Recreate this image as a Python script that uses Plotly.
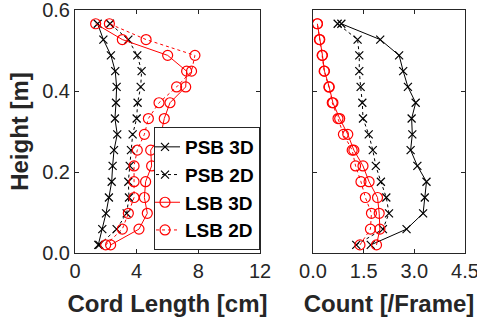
import plotly.graph_objects as go

heights = [0.020, 0.059, 0.098, 0.137, 0.176, 0.215, 0.254, 0.293, 0.332, 0.371, 0.410, 0.449, 0.488, 0.527, 0.566]

psb3d_cord = [1.51, 1.77, 2.01, 2.20, 2.38, 2.44, 2.53, 2.74, 2.59, 2.66, 2.70, 2.61, 2.33, 1.84, 1.47]
psb2d_cord = [1.58, 2.70, 3.35, 3.50, 3.46, 3.55, 3.63, 3.74, 4.00, 4.06, 4.26, 4.32, 4.04, 3.46, 2.27]
lsb3d_cord = [2.31, 4.15, 4.69, 4.50, 4.58, 4.97, 4.91, 5.58, 5.79, 6.16, 7.18, 7.24, 6.01, 3.07, 1.34]
lsb2d_cord = [1.99, 3.07, 3.46, 3.83, 3.83, 3.83, 4.04, 4.50, 4.76, 5.45, 6.59, 7.56, 7.78, 4.61, 2.23]

psb3d_count = [1.71, 2.77, 3.26, 3.31, 3.36, 3.09, 2.89, 2.94, 2.92, 3.04, 2.81, 2.67, 2.55, 1.99, 0.84]
psb2d_count = [1.28, 2.07, 2.25, 2.17, 2.01, 1.86, 1.77, 1.65, 1.48, 1.46, 1.41, 1.37, 1.37, 1.32, 0.73]
lsb3d_count = [1.88, 1.98, 1.96, 1.91, 1.66, 1.48, 1.21, 1.03, 0.79, 0.59, 0.48, 0.34, 0.28, 0.20, 0.13]
lsb2d_count = [1.39, 1.70, 1.73, 1.55, 1.42, 1.26, 1.16, 0.90, 0.74, 0.57, 0.47, 0.33, 0.27, 0.19, 0.13]

series_names = ["PSB 3D", "PSB 2D", "LSB 3D", "LSB 2D"]
cord_ticks = [0, 4, 8, 12]
count_ticks = [0.0, 1.5, 3.0, 4.5]
count_labels = ["0.0", "1.5", "3.0", "4.5"]
height_ticks = [0.0, 0.2, 0.4, 0.6]
height_labels = ["0.0", "0.2", "0.4", "0.6"]

FONT = "Liberation Sans, Arial, sans-serif"
AX = "#262626"

styles = [
    dict(color="black", dash="solid", symbol="x-thin", size=8),
    dict(color="black", dash="dot", symbol="x-thin", size=8),
    dict(color="red", dash="solid", symbol="circle-open", size=10),
    dict(color="red", dash="dot", symbol="circle-open", size=10),
]

fig = go.Figure()
cords = [psb3d_cord, psb2d_cord, lsb3d_cord, lsb2d_cord]
counts = [psb3d_count, psb2d_count, lsb3d_count, lsb2d_count]

for name, xs, st in zip(series_names, cords, styles):
    fig.add_trace(go.Scatter(
        x=xs, y=heights, mode="lines+markers", name=name,
        line=dict(color=st["color"], dash=st["dash"], width=1),
        marker=dict(symbol=st["symbol"], size=st["size"], color=st["color"],
                    line=dict(color=st["color"], width=1.2)),
        xaxis="x", yaxis="y", showlegend=True))

for name, xs, st in zip(series_names, counts, styles):
    fig.add_trace(go.Scatter(
        x=xs, y=heights, mode="lines+markers", name=name,
        line=dict(color=st["color"], dash=st["dash"], width=1),
        marker=dict(symbol=st["symbol"], size=st["size"], color=st["color"],
                    line=dict(color=st["color"], width=1.2)),
        xaxis="x2", yaxis="y2", showlegend=False))

axis_common = dict(showline=True, linecolor=AX, linewidth=1, mirror="ticks",
                   ticks="inside", ticklen=4, tickcolor=AX, showgrid=False,
                   zeroline=False, automargin=False, ticklabeloverflow="allow",
                   tickfont=dict(family=FONT, size=20, color=AX))
title_font = dict(family=FONT, size=24, color=AX, weight="bold")

fig.update_layout(
    width=477, height=323,
    margin=dict(l=0, r=0, t=0, b=0),
    paper_bgcolor="white", plot_bgcolor="white",
    xaxis=dict(domain=[75/477, 260/477], range=[0, 12], tickvals=cord_ticks,
               title=dict(text="Cord Length [cm]", font=title_font, standoff=14),
               anchor="y", **axis_common),
    yaxis=dict(domain=[70/323, 313/323], range=[0, 0.6], tickvals=height_ticks,
               ticktext=height_labels,
               title=dict(text="Height [m]", font=title_font, standoff=6),
               anchor="x", **axis_common),
    xaxis2=dict(domain=[313/477, 465/477], range=[0, 4.5], tickvals=count_ticks,
                ticktext=count_labels,
                title=dict(text="Count [/Frame]", font=title_font, standoff=14),
                anchor="y2", **axis_common),
    yaxis2=dict(domain=[70/323, 313/323], range=[0, 0.6], tickvals=height_ticks,
                showticklabels=False, anchor="x2", **axis_common),
    legend=dict(x=260/477, xanchor="right", y=73/323, yanchor="bottom",
                bgcolor="white", bordercolor=AX, borderwidth=1,
                font=dict(family=FONT, size=19, color="black", weight="bold"),
                itemwidth=30, tracegroupgap=0, indentation=-10),
)

fig.write_html("out.html")
